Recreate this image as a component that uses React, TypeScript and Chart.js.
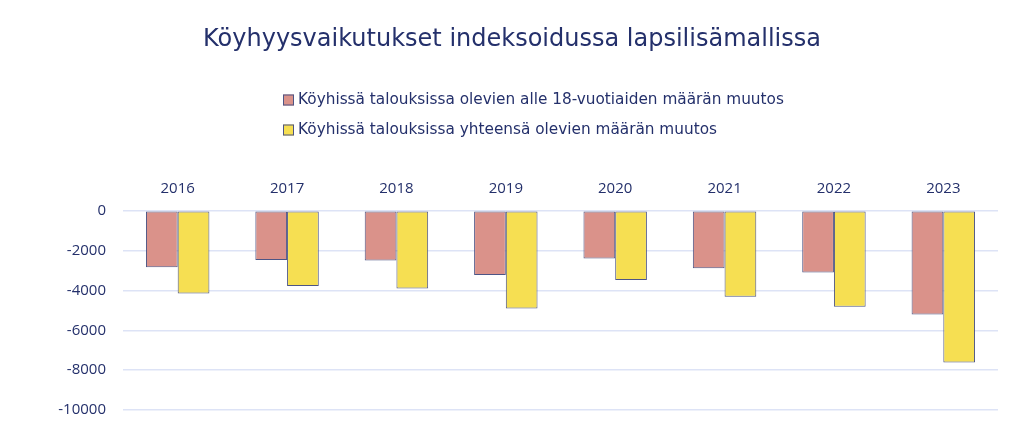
import React, { useEffect, useRef } from "react";
import { Chart, registerables } from "chart.js";

Chart.register(...registerables);

const TITLE = "Köyhyysvaikutukset indeksoidussa lapsilisämallissa";
const years = ["2016", "2017", "2018", "2019", "2020", "2021", "2022", "2023"];
const under18Label = "Köyhissä talouksissa olevien alle 18-vuotiaiden määrän muutos";
const totalLabel = "Köyhissä talouksissa yhteensä olevien määrän muutos";
const under18 = [-2830, -2470, -2490, -3220, -2400, -2880, -3100, -5200];
const total = [-4150, -3780, -3900, -4900, -3470, -4320, -4820, -7620];
const yTicks = [0, -2000, -4000, -6000, -8000, -10000];

const FONT = "'Open Sans', sans-serif";
const WIDE = "'DejaVu Sans', sans-serif";
const NAVY = "#24306b";
const RED = "#da928a";
const YELLOW = "#f6df52";
const BORDER = "#4d5585";

const customLegend = {
  id: "customLegend",
  afterDraw(chart: any) {
    const ctx = chart.ctx;
    const items = chart.data.datasets;
    ctx.save();
    ctx.font = `15.3px ${WIDE}`;
    ctx.textBaseline = "middle";
    ctx.textAlign = "left";
    items.forEach((ds: any, i: number) => {
      const x = 275;
      const y = 92 + i * 30;
      ctx.fillStyle = ds.backgroundColor;
      ctx.fillRect(x, y - 5.5, 11, 11);
      ctx.strokeStyle = BORDER;
      ctx.lineWidth = 1;
      ctx.strokeRect(x + 0.5, y - 5, 10, 10);
      ctx.fillStyle = NAVY;
      ctx.fillText(ds.label, x + 15, y);
    });
    ctx.restore();
  },
};

export default function App() {
  const ref = useRef<HTMLCanvasElement>(null);
  useEffect(() => {
    if (!ref.current) return;
    const chart = new Chart(ref.current, {
      type: "bar",
      data: {
        labels: years,
        datasets: [
          {
            label: under18Label,
            data: under18,
            backgroundColor: RED,
            borderColor: BORDER,
            borderWidth: 1,
            borderSkipped: false,
            categoryPercentage: 0.58,
            barPercentage: 1,
          },
          {
            label: totalLabel,
            data: total,
            backgroundColor: YELLOW,
            borderColor: BORDER,
            borderWidth: 1,
            borderSkipped: false,
            categoryPercentage: 0.58,
            barPercentage: 1,
          },
        ],
      },
      options: {
        animation: false,
        responsive: false,
        maintainAspectRatio: false,
        layout: { padding: 0 },
        plugins: {
          legend: { display: false },
          tooltip: { enabled: false },
          title: {
            display: true,
            text: TITLE,
            color: NAVY,
            font: { family: WIDE, size: 24, weight: "normal" },
            padding: { top: 17, bottom: 113 },
          },
        },
        scales: {
          x: {
            position: "top",
            grid: { display: false, drawTicks: false },
            border: { display: false },
            ticks: {
              color: NAVY,
              font: { family: FONT, size: 15 },
              padding: 13,
            },
          },
          y: {
            min: -10000,
            max: 0,
            afterBuildTicks: (axis: any) => {
              axis.ticks = yTicks.map((v) => ({ value: v }));
            },
            afterFit: (axis: any) => {
              axis.width = 115;
            },
            grid: { color: "#dde3f6", lineWidth: 1.5, drawTicks: false },
            border: { display: false },
            ticks: {
              color: NAVY,
              font: { family: FONT, size: 15 },
              padding: 17,
              callback: (v: any) => String(v),
            },
          },
          yRight: {
            type: "linear",
            position: "right",
            grid: { display: false, drawTicks: false },
            border: { display: false },
            ticks: { display: false },
            afterFit: (axis: any) => {
              axis.width = 18;
            },
          },
        },
      },
      plugins: [customLegend],
    });
    return () => chart.destroy();
  }, []);
  return (
    <div style={{ height: 416, overflow: "hidden" }}>
      <canvas ref={ref} width={1008} height={428} style={{ display: "block" }} />
    </div>
  );
}
